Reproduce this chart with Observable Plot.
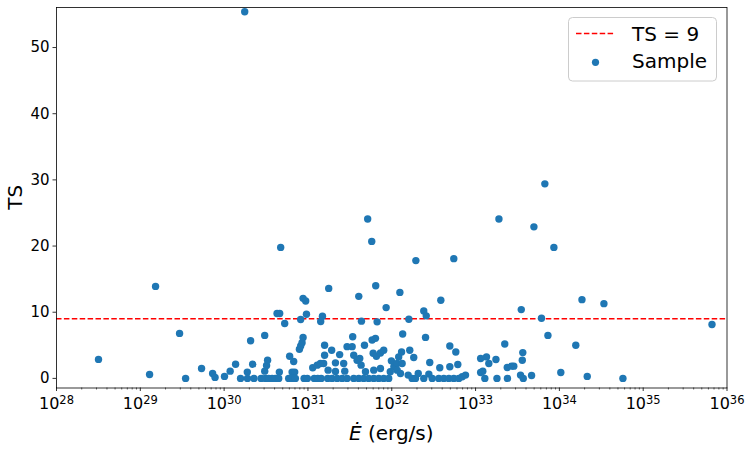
<!DOCTYPE html>
<html><head><meta charset="utf-8">
<script src="https://cdn.jsdelivr.net/npm/d3@7"></script>
<script src="https://cdn.jsdelivr.net/npm/@observablehq/plot@0.6"></script>
<style>body{margin:0;background:#fff;} #chart svg{display:block}</style>
</head><body><div id="chart"></div>
<script>
// Spin-down power (erg/s) and test statistic of each sample source
const edot = [
1.76e30,1.52e29,4.73e30,5.16e31,5.77e31,6.44e31,1.77e31,4.04e31,8.75e30,9.4e30,
8.57e31,6.71e33,1.90e33,4.97e33,8.6e33,1.94e32,5.5e32,1.25e32,3.85e32,1.86e34,
3.4e34,6.12e33,7.3e33,1.57e34,1.04e34,2.15e34,5.73e34,6.62e35,3.17e28,1.29e29,
2.94e29,3.47e29,5.38e29,7.29e29,7.79e29,1.01e30,1.18e30,1.37e30,1.57e30,1.89e30,
1.9e30,2.19e30,2.27e30,2.07e30,3.05e30,2.76e30,3.05e30,3.21e30,3.30e30,3.1e30,
3.4e30,3.73e30,4.09e30,4.56e30,4.48e30,4.28e30,4.6e30,5.28e30,6.05e30,6.76e30,
6.47e30,6.95e30,5.89e30,6.47e30,7.08e30,7.91e30,8.19e30,8.51e30,8.75e30,8.19e30,
9.6e30,9.0e30,9.84e30,1.14e31,1.29e31,1.41e31,1.19e31,1.31e31,1.44e31,1.58e31,
1.58e31,1.49e31,1.42e31,1.54e31,1.74e31,1.92e31,2.13e31,2.39e31,1.72e31,1.94e31,
2.23e31,2.56e31,2.93e31,2.13e31,2.67e31,2.75e31,2.93e31,3.42e31,3.37e31,3.52e31,
3.86e31,4.15e31,4.31e31,4.73e31,4.86e31,3.52e31,4.04e31,4.63e31,5.31e31,4.35e31,
5.83e31,6.39e31,6.0e31,6.56e31,7.33e31,8.02e31,6.69e31,6.1e31,7.33e31,6.1e31,
7.0e31,8.02e31,9.2e31,9.9e31,1.06e32,9.6e31,1.16e32,1.21e32,1.31e32,1.33e32,
1.16e32,1.27e32,1.35e32,1.60e32,1.64e32,1.83e32,1.57e32,1.75e32,1.92e32,2.07e32,
2.41e32,2.58e32,2.53e32,2.41e32,2.77e32,2.84e32,3.04e32,3.74e32,3.64e32,4.18e32,
4.8e32,5.5e32,6.31e32,4.93e32,5.81e32,4.93e32,6.14e32,6.93e32,7.59e32,1.15e33,
1.22e33,1.29e33,1.35e33,1.44e33,1.15e33,1.75e33,1.80e33,2.23e33,2.39e33,2.69e33,
2.86e33,2.4e33,3.51e33,3.44e33,3.71e33,3.61e33,3.66e33,4.66e33
];
const ts = [
55.4,13.9,19.8,24.1,20.7,14.0,13.6,12.4,12.1,11.7,
10.7,29.4,24.1,22.9,19.8,17.8,18.1,13.0,11.8,11.9,
11.3,9.1,6.5,5.0,0.9,0.3,0.0,8.15,2.87,0.6,
6.8,0.0,1.5,0.75,0.15,0.3,1.1,2.15,0,0.95,
0,2.15,0,5.7,6.5,0,1.1,1.95,2.75,0,
0,0,0,0.95,0,9.8,9.8,8.3,3.35,2.55,
0.95,0.95,0,0,0,4.4,4.9,5.4,6.2,8.9,
9.7,0,0,1.6,2.0,2.25,0,0,0,5.0,
3.5,9.4,8.6,2.25,1.25,4.25,2.35,3.6,0,0,
0,0,0,1.05,2.25,1.1,4.8,6.3,4.8,3.5,
2.75,3.0,2.0,5.0,1.0,0,0,0,0,8.65,
5.8,6.05,3.8,3.35,3.85,4.25,8.55,1.25,1.5,0,
0,0,0,2.65,1.75,1.0,2.25,3.25,4.0,2.25,
1.25,0.75,6.7,8.95,4.25,3.15,0.5,0,0,0.75,
10.2,9.45,6.2,0,0.65,2.4,0,1.6,0,0,
0,0,0,4.9,4.0,1.75,2.1,0.25,0.5,3.0,
1.1,0,3.25,2.25,0.9,2.85,0,5.2,1.65,1.85,
1.85,0,10.4,0.5,0,2.75,3.9,0.45
];
const threshold = 9;
const xDecades = [28,29,30,31,32,33,34,35,36];
const yTicks = [0,10,20,30,40,50];
const legendLabels = ["TS = 9", "Sample"];
const xLabelMain = "Ė";
const xLabelRest = " (erg/s)";
const yLabel = "TS";

const data = edot.map((e, i) => ({edot: e, ts: ts[i]}));
const minor = [];
for (let k = xDecades[0]; k < xDecades[xDecades.length - 1]; k++)
  for (let m = 2; m <= 9; m++) minor.push(m * Math.pow(10, k));
const major = xDecades.map(d => Math.pow(10, d));

const W = 749, H = 453;
const mL = 56, mR = 22.5, mT = 7, mB = 65.5;
const blue = "#1f77b4";
const font = "DejaVu Sans";

const plot = Plot.plot({
  width: W, height: H,
  marginLeft: mL, marginRight: mR, marginTop: mT, marginBottom: mB,
  style: {fontFamily: font, fontSize: "15px", background: "#fff", color: "#000", overflow: "visible"},
  x: {type: "log", domain: [1e28, 1e36]},
  y: {domain: [-1.45, 56.05]},
  marks: [
    Plot.ruleY([threshold], {stroke: "red", strokeWidth: 1.5, strokeDasharray: "5.5,2.4"}),
    Plot.dot(data, {x: "edot", y: "ts", r: 3.7, fill: blue, stroke: "none"}),
    Plot.axisX(minor, {tickSize: 2, tickFormat: () => "", label: null, stroke: "#000", strokeWidth: 0.6}),
    Plot.axisX(major, {tickSize: 3.5, tickPadding: 6, label: null, stroke: "#000", strokeWidth: 0.8,
      fontSize: 16, tickFormat: d => "10^" + Math.round(Math.log10(d))}),
    Plot.axisY(yTicks, {tickSize: 3.5, tickPadding: 3.5, label: null, stroke: "#000", strokeWidth: 0.8, fontSize: 15}),
    Plot.frame({stroke: "#000", strokeWidth: 0.8})
  ]
});

const svg = d3.select(plot);
// superscript exponents on log tick labels
svg.selectAll('g[aria-label="x-axis tick label"] text').each(function() {
  const t = this.textContent;
  if (t.startsWith("10^")) {
    const e = t.slice(3);
    this.textContent = "";
    const s = d3.select(this);
    s.append("tspan").text("10");
    s.append("tspan").attr("dy", "-0.45em").attr("font-size", "11.5px").text(e);
  }
});

// axis labels
svg.append("text")
  .attr("transform", `translate(15,${(mT + H - mB) / 2}) rotate(-90)`)
  .attr("text-anchor", "middle").attr("dominant-baseline", "central")
  .attr("font-family", font).attr("font-size", "20px").attr("fill", "#000")
  .text(yLabel);
const xl = svg.append("text")
  .attr("x", (mL + W - mR) / 2).attr("y", 440)
  .attr("text-anchor", "middle")
  .attr("font-family", font).attr("font-size", "20px").attr("fill", "#000");
xl.append("tspan").attr("font-style", "italic").text(xLabelMain);
xl.append("tspan").text(xLabelRest);

// legend
const lg = svg.append("g").attr("text-anchor", "start");
lg.append("rect").attr("x", 568.5).attr("y", 17.5).attr("width", 148).attr("height", 63.5)
  .attr("rx", 4).attr("fill", "#fff").attr("fill-opacity", 0.8).attr("stroke", "#cccccc").attr("stroke-width", 1);
lg.append("line").attr("x1", 576).attr("x2", 615).attr("y1", 33.5).attr("y2", 33.5)
  .attr("stroke", "red").attr("stroke-width", 1.5).attr("stroke-dasharray", "5.5,2.4");
lg.append("circle").attr("cx", 595.5).attr("cy", 62.3).attr("r", 3.6).attr("fill", blue);
lg.append("text").attr("x", 632).attr("y", 40.7).attr("text-anchor", "start").attr("font-family", font).attr("font-size", "20px").attr("fill", "#000").text(legendLabels[0]);
lg.append("text").attr("x", 632).attr("y", 67.5).attr("text-anchor", "start").attr("font-family", font).attr("font-size", "20px").attr("fill", "#000").text(legendLabels[1]);

document.getElementById("chart").appendChild(plot);
</script>
</body></html>
